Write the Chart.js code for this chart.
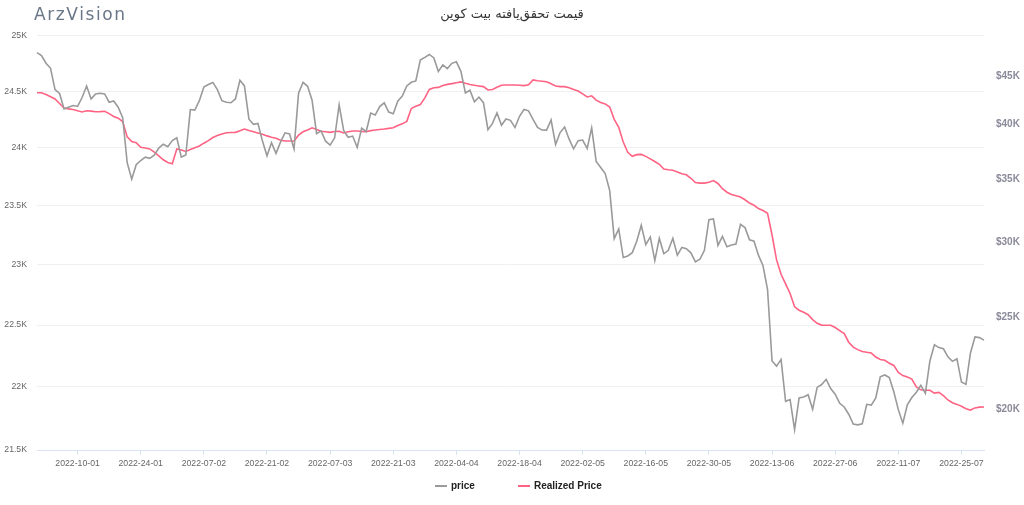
<!DOCTYPE html>
<html>
<head>
<meta charset="utf-8">
<script src="https://cdn.jsdelivr.net/npm/chart.js@4"></script>
<style>
    html, body { margin: 0; padding: 0; background: #fff; }
    #wrap { position: relative; width: 1024px; height: 505px; }
    #logo {
        position: absolute; left: 34px; top: 4px;
        font-family: 'DejaVu Sans', sans-serif; font-size: 17px;
        letter-spacing: 1.6px; color: #6a7788;
    }
    #legend {
        position: absolute; left: 435px; top: 480px;
        display: flex; gap: 43px;
        font: bold 10px 'Liberation Sans', Arial, sans-serif; color: #222;
    }
    #legend .item { display: flex; align-items: center; gap: 4px; }
    #legend .swatch { width: 12px; height: 2px; }
</style>
</head>
<body>
<div id="wrap">
    <canvas id="chart" width="1024" height="505"></canvas>
    <div id="logo">ArzVision</div>
    <div id="legend"></div>
</div>
<script>
// daily data, 2022-01-01 .. 2022-07-30
const startDate = [2022, 0, 1];
const dayCount = 211;

const tickDates = ['2022-10-01', '2022-24-01', '2022-07-02', '2022-21-02', '2022-07-03',
    '2022-21-03', '2022-04-04', '2022-18-04', '2022-02-05', '2022-16-05', '2022-30-05',
    '2022-13-06', '2022-27-06', '2022-11-07', '2022-25-07'];

const leftTicks = [21500, 22000, 22500, 23000, 23500, 24000, 24500, 25000];
const rightTicks = [20000, 25000, 30000, 35000, 40000, 45000];

const price = [
    // Jan
    47686, 47345, 46458, 45897, 43569, 43160, 41558, 41734, 41912, 41821,
    42736, 43949, 42592, 43099, 43177, 43113, 42250, 42375, 41744, 40680,
    36457, 35030, 36276, 36654, 36954, 36852, 37138, 37784, 38138, 37917, 38483,
    // Feb
    38743, 36952, 37154, 41500, 41441, 42412, 43840, 44118, 44338, 43565,
    42407, 42244, 42197, 42586, 44575, 43961, 40538, 40030, 40122, 38431,
    37075, 38286, 37296, 38332, 39214, 39105, 37709, 43193,
    // Mar
    44354, 43924, 42451, 39137, 39400, 38419, 38062, 38737, 41982, 39437,
    38794, 38904, 37849, 39666, 39338, 41143, 40951, 41801, 42191, 41247,
    41077, 42358, 42892, 43960, 44349, 44500, 46820, 47128, 47465, 47062, 45538,
    // Apr
    46281, 45868, 46453, 46622, 45555, 43207, 43503, 42287, 42782, 42207,
    39521, 40127, 41166, 39936, 40553, 40424, 39716, 40827, 41503, 41374,
    40527, 39741, 39478, 39470, 40458, 38117, 39241, 39773, 38609, 37714,
    // May
    38469, 38529, 37750, 39698, 36575, 36040, 35501, 34059, 30296, 31022,
    28936, 29047, 29283, 30101, 31305, 29863, 30425, 28720, 30314, 29201,
    29445, 30324, 29098, 29655, 29562, 29267, 28627, 28814, 29445, 31726, 31792,
    // Jun
    29799, 30467, 29704, 29832, 29907, 31370, 31125, 30214, 30112, 29083,
    28360, 26762, 22487, 22206, 22572, 20381, 20471, 19017, 20553, 20599,
    20710, 19988, 21085, 21231, 21502, 21027, 20736, 20281, 20100, 19750,
    // Jul
    19279, 19243, 19297, 20232, 20191, 20548, 21638, 21731, 21592, 20860,
    19971, 19323, 20212, 20569, 20836, 21190, 20779, 22485, 23390, 23231,
    23164, 22714, 22465, 22609, 21361, 21239, 22930, 23843, 23804, 23656
];

const realizedPrice = [
    24485, 24485, 24470, 24450, 24430, 24390, 24350, 24342, 24337, 24325,
    24315, 24325, 24322, 24316, 24318, 24321, 24300, 24275, 24260, 24230,
    24095, 24054, 24045, 24005, 23998, 23990, 23962, 23930, 23895, 23872,
    23861, 23990, 23980, 23968, 23985, 24000, 24015, 24040, 24062, 24090,
    24107, 24120, 24131, 24134, 24135, 24150, 24164, 24152, 24141, 24130,
    24118, 24104, 24092, 24083, 24065, 24059, 24059, 24059, 24110, 24140,
    24155, 24175, 24160, 24145, 24140, 24135, 24142, 24145, 24130, 24140,
    24147, 24147, 24143, 24141, 24150, 24156, 24160, 24164, 24170, 24176,
    24195, 24210, 24232, 24345, 24365, 24380, 24440, 24515, 24530, 24533,
    24550, 24560, 24567, 24575, 24582, 24570, 24559, 24552, 24546, 24540,
    24510, 24515, 24535, 24552, 24554, 24554, 24554, 24552, 24549, 24556,
    24600, 24592, 24588, 24584, 24565, 24545, 24540, 24540, 24530, 24515,
    24501, 24475, 24448, 24458, 24420, 24398, 24386, 24358, 24250, 24180,
    24050, 23960, 23925, 23940, 23942, 23925, 23903, 23880, 23856, 23815,
    23808, 23804, 23790, 23774, 23765, 23735, 23698, 23693, 23693, 23700,
    23715, 23690, 23645, 23615, 23596, 23585, 23574, 23550, 23522, 23503,
    23475, 23458, 23435, 23250, 23040, 22920, 22840, 22760, 22650, 22622,
    22605, 22585, 22545, 22515, 22500, 22499, 22499, 22480, 22455, 22430,
    22360, 22320, 22300, 22285, 22278, 22272, 22240, 22220, 22214, 22190,
    22172, 22115, 22090, 22078, 22062, 22000, 21976, 21973, 21973, 21950,
    21955, 21930, 21895, 21873, 21860, 21845, 21825, 21815, 21832, 21838, 21839
];

// labels formatted as YYYY-DD-MM like the source chart
const pad = n => String(n).padStart(2, '0');
const labels = [];
for (let i = 0; i < dayCount; i++) {
    const d = new Date(startDate[0], startDate[1], startDate[2] + i);
    labels.push(`${d.getFullYear()}-${pad(d.getDate())}-${pad(d.getMonth() + 1)}`);
}

const kFormat = v => (v / 1000) + 'K';
const tickFont = { family: "'Liberation Sans', Arial, sans-serif", size: 8.7 };

const datasets = [{
    label: 'price',
    data: price,
    yAxisID: 'y1',
    borderColor: '#9a9a9a',
    borderWidth: 1.6,
    pointRadius: 0,
    tension: 0
}, {
    label: 'Realized Price',
    data: realizedPrice,
    yAxisID: 'y',
    borderColor: 'rgb(255, 99, 132)',
    borderWidth: 1.6,
    pointRadius: 0,
    tension: 0
}];

// legend as html so the item spacing can match
const legendEl = document.getElementById('legend');
datasets.forEach(ds => {
    const item = document.createElement('div');
    item.className = 'item';
    item.innerHTML = `<span class="swatch" style="background:${ds.borderColor}"></span><span>${ds.label}</span>`;
    legendEl.appendChild(item);
});

new Chart(document.getElementById('chart'), {
    type: 'line',
    data: { labels: labels, datasets: datasets },
    options: {
        responsive: false,
        animation: false,
        layout: { padding: { left: 4, right: 4, top: 0, bottom: 37 } },
        plugins: {
            title: {
                display: true,
                text: 'قیمت تحقق‌یافته بیت کوین',
                color: '#333',
                font: { family: "'DejaVu Sans', sans-serif", size: 13, weight: 'normal' },
                padding: { top: 7, bottom: 13 }
            },
            legend: { display: false },
            tooltip: { enabled: false }
        },
        scales: {
            x: {
                type: 'category',
                offset: false,
                afterBuildTicks: axis => {
                    axis.ticks = axis.ticks.filter(t => tickDates.includes(labels[t.value]));
                },
                afterFit: axis => { axis.height = 18; },
                ticks: { autoSkip: false, maxRotation: 0, color: '#666', font: tickFont, padding: 3 },
                grid: { drawOnChartArea: false, color: '#d9e2f1', tickLength: 5 },
                border: { color: '#d9e2f1' }
            },
            y: {
                type: 'logarithmic',
                position: 'left',
                min: 21500,
                max: 25000,
                afterBuildTicks: axis => { axis.ticks = leftTicks.map(v => ({ value: v })); },
                afterFit: axis => { axis.width = 33; },
                ticks: { callback: kFormat, color: '#666', font: tickFont, padding: 10 },
                grid: { color: '#f0f0f0', drawTicks: false },
                border: { display: false }
            },
            y1: {
                type: 'logarithmic',
                position: 'right',
                min: 18100,
                max: 49700,
                afterBuildTicks: axis => { axis.ticks = rightTicks.map(v => ({ value: v })); },
                afterFit: axis => { axis.width = 36; },
                ticks: {
                    callback: v => '$' + kFormat(v),
                    color: '#8a8a9a',
                    font: { family: "'Liberation Sans', Arial, sans-serif", size: 10, weight: 'bold' },
                    padding: 12
                },
                grid: { drawOnChartArea: false, drawTicks: false },
                border: { display: false }
            }
        }
    }
});
</script>
</body>
</html>
